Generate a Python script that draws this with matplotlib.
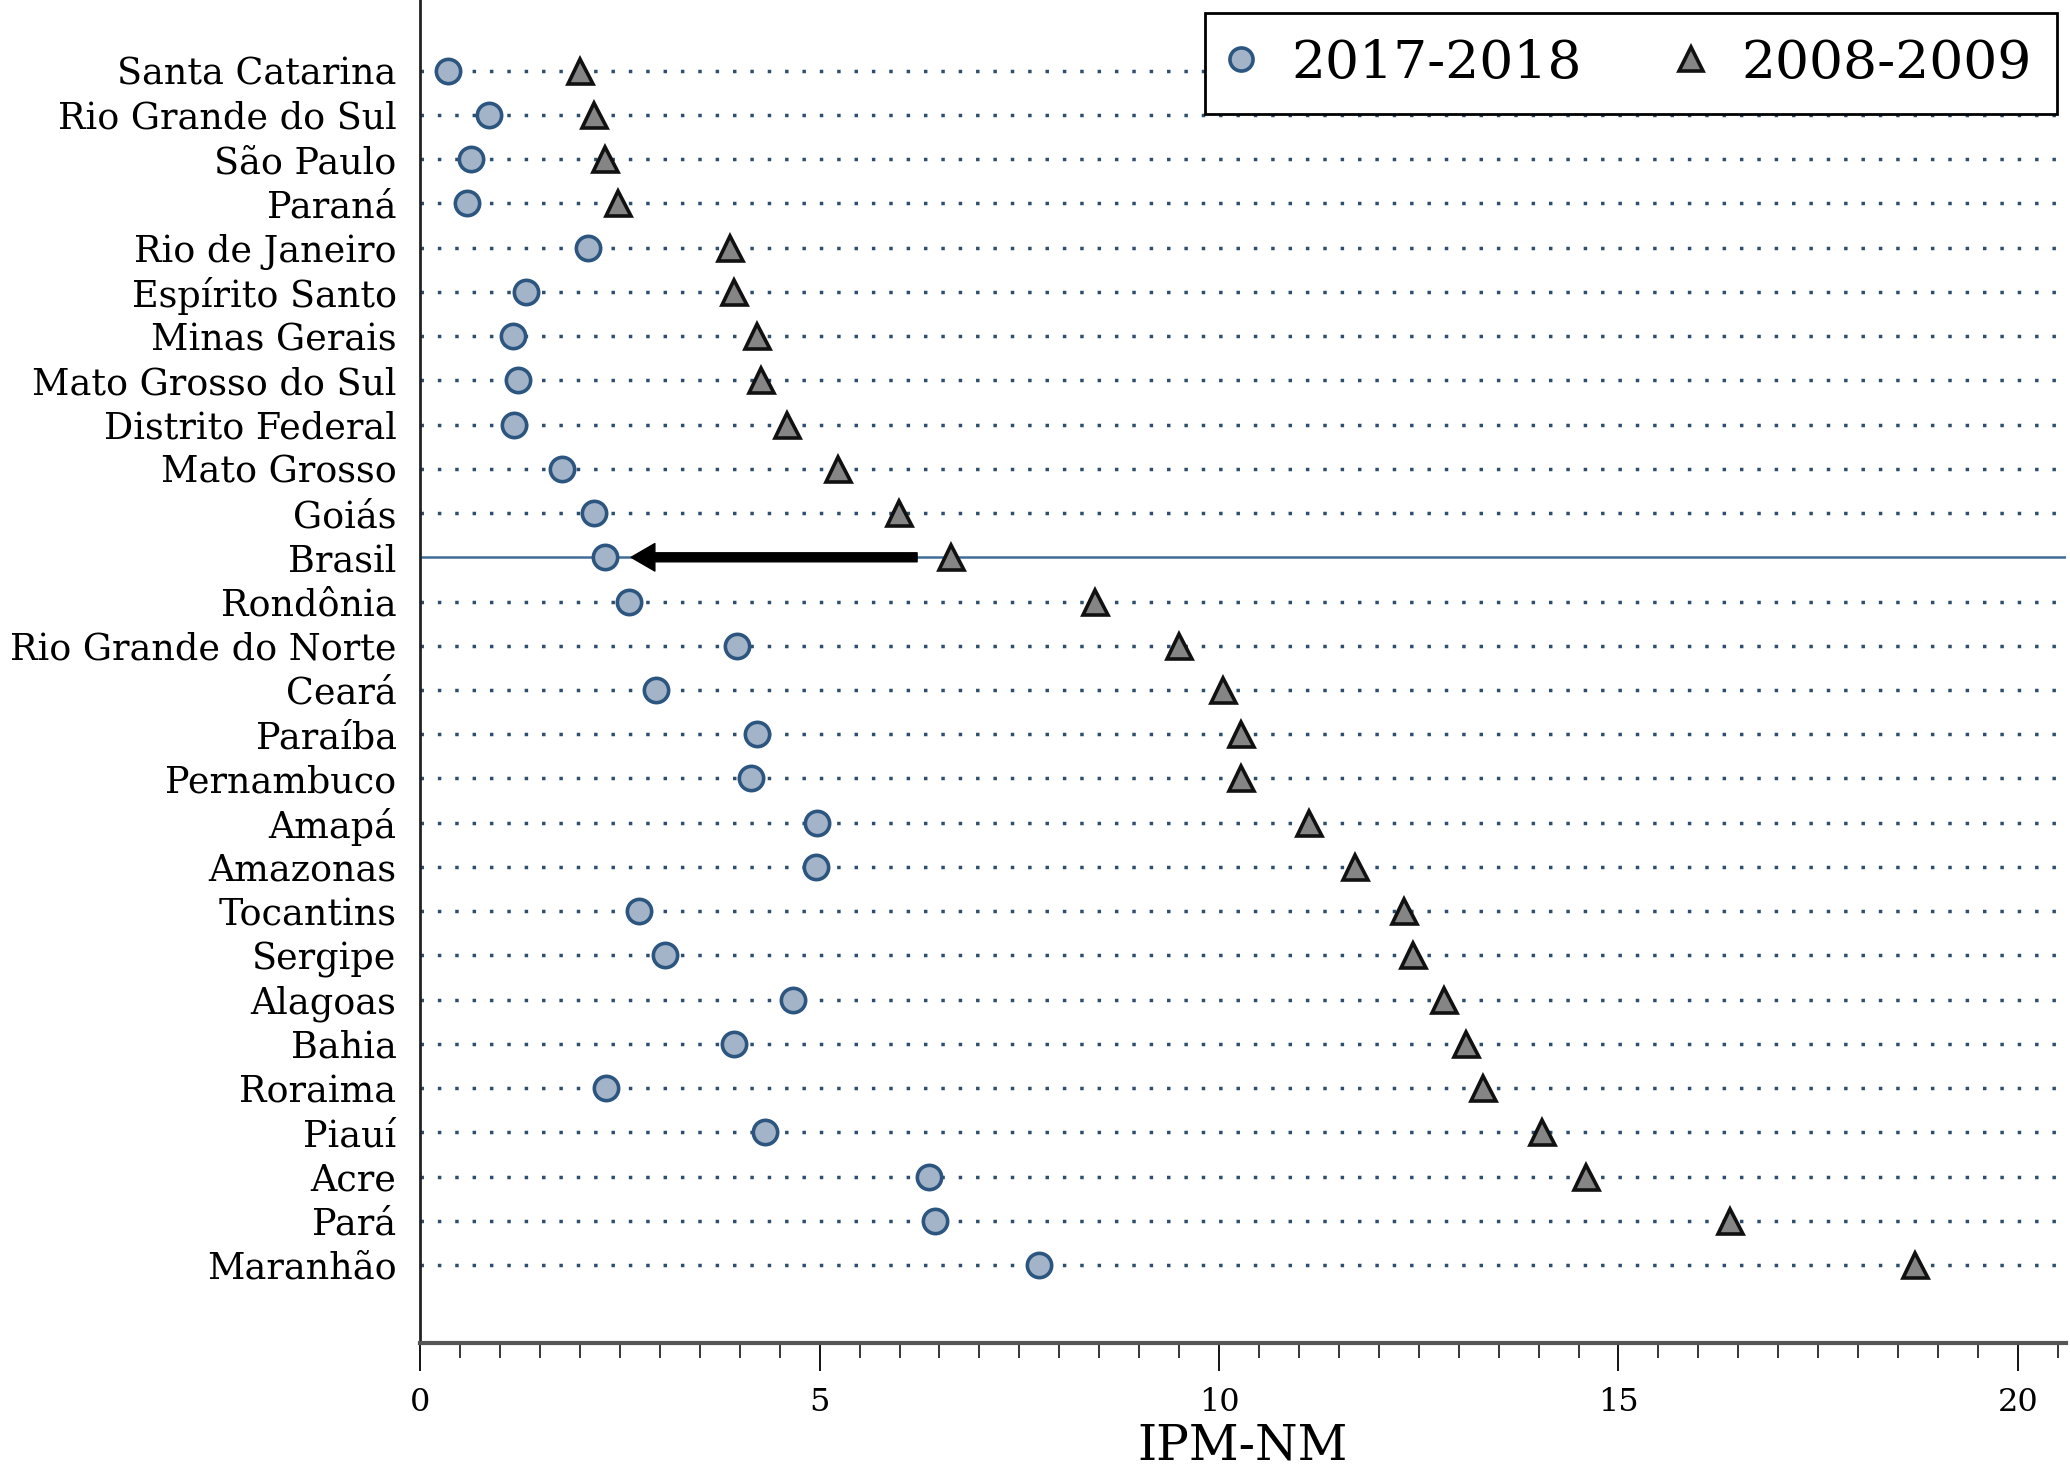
import matplotlib
matplotlib.use("Agg")
import matplotlib.pyplot as plt
from matplotlib.ticker import MultipleLocator

states = ["Santa Catarina", "Rio Grande do Sul", "São Paulo", "Paraná", "Rio de Janeiro",
          "Espírito Santo", "Minas Gerais", "Mato Grosso do Sul", "Distrito Federal",
          "Mato Grosso", "Goiás", "Brasil", "Rondônia", "Rio Grande do Norte", "Ceará",
          "Paraíba", "Pernambuco", "Amapá", "Amazonas", "Tocantins", "Sergipe", "Alagoas",
          "Bahia", "Roraima", "Piauí", "Acre", "Pará", "Maranhão"]
ipm_2017 = [0.35, 0.86, 0.64, 0.58, 2.10, 1.32, 1.16, 1.22, 1.17, 1.77, 2.18, 2.31, 2.61,
            3.96, 2.95, 4.21, 4.14, 4.97, 4.95, 2.74, 3.07, 4.67, 3.93, 2.33, 4.32, 6.37,
            6.45, 7.74]
ipm_2008 = [2.00, 2.18, 2.31, 2.48, 3.88, 3.93, 4.21, 4.27, 4.59, 5.23, 5.99, 6.65, 8.45,
            9.50, 10.05, 10.28, 10.28, 11.12, 11.70, 12.31, 12.43, 12.81, 13.09, 13.30,
            14.04, 14.59, 16.39, 18.71]
legend_labels = ["2017-2018", "2008-2009"]
xticks = [0, 5, 10, 15, 20]
xlabel = "IPM-NM"

plt.rcParams['font.family'] = ['DejaVu Serif']

fig = plt.figure(figsize=(20.7, 14.74), dpi=100)
ax = fig.add_axes([0.203, 0.089, 0.795, 0.911])

xmax = 20.6
ypos = list(range(len(states)))
for i, s in enumerate(states):
    if s == "Brasil":
        ax.plot([0, xmax], [i, i], color="#3f6c98", lw=1.8, zorder=1)
    else:
        ax.plot([0, xmax], [i, i], color="#2f4d6e", lw=2.5, ls=(0, (1, 4)), zorder=1)

ax.plot(ipm_2017, ypos, ls="none", marker="o", markersize=17.5, markerfacecolor="#a3b4c8",
        markeredgecolor="#2c5680", markeredgewidth=2.6, label=legend_labels[0], zorder=4)
ax.plot(ipm_2008, ypos, ls="none", marker="^", markersize=18, markerfacecolor="#858585",
        markeredgecolor="#111111", markeredgewidth=2.6, label=legend_labels[1], zorder=4)

bi = states.index("Brasil")
ax.annotate("", xy=(ipm_2017[bi] + 0.33, bi), xytext=(6.22, bi),
            arrowprops=dict(arrowstyle="simple,head_width=1.1,head_length=0.95,tail_width=0.36",
                            color="black", shrinkA=0, shrinkB=0, mutation_scale=18), zorder=5)

ax.set_xlim(0, xmax)
ax.set_ylim(len(states) - 1 + 1.76, -1.6)
ax.set_yticks(ypos)
ax.set_yticklabels(states, fontsize=26.3)
ax.tick_params(axis="y", length=0, pad=17)
ax.set_xticks(xticks)
ax.xaxis.set_minor_locator(MultipleLocator(0.5))
ax.tick_params(axis="x", which="major", length=20, width=1.3, labelsize=23, pad=12)
ax.tick_params(axis="x", which="minor", length=10.5, width=1.1)
ax.set_xlabel(xlabel, fontsize=35, labelpad=3)

for sp in ["top", "right"]:
    ax.spines[sp].set_visible(False)
ax.spines["left"].set_linewidth(2)
ax.spines["left"].set_color("#222222")
ax.spines["bottom"].set_linewidth(3)
ax.spines["bottom"].set_color("#555555")

leg = fig.legend(loc="upper right", bbox_to_anchor=(2057 / 2070, 1 - 13 / 1474), ncol=2,
                 fontsize=38.5, markerscale=0.95, frameon=True, fancybox=False,
                 handletextpad=0.74, columnspacing=1.85, borderpad=0.47, handlelength=0.4,
                 borderaxespad=0)
leg.get_frame().set_edgecolor("black")
leg.get_frame().set_linewidth(2)
leg.get_frame().set_alpha(1)

fig.savefig("out.png", dpi=100)
